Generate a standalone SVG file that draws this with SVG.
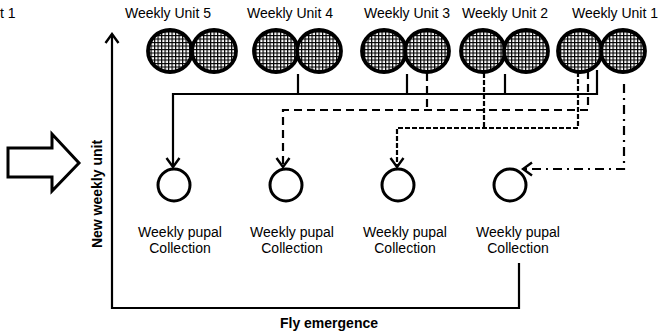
<svg xmlns="http://www.w3.org/2000/svg" width="660" height="335" viewBox="0 0 660 335">
<style>
text{font-family:"Liberation Sans",Arial,sans-serif;font-size:14px;fill:#000}
.b{font-weight:bold}
.cage{fill:url(#grid);stroke:#000;stroke-width:3.8}
.col{fill:#fff;stroke:#000;stroke-width:3}
.ln{fill:none;stroke:#000;stroke-width:2.2}
.d1{stroke-dasharray:8,5}
.d2{stroke-dasharray:5,2}
.d3{stroke-dasharray:9,5,2,5}
</style>
<defs>
<pattern id="grid" width="3.5" height="3.5" patternUnits="userSpaceOnUse">
<rect width="3.5" height="3.5" fill="#fff"/>
<path d="M0,0.6H3.5M0.6,0V3.5" stroke="#000" stroke-width="1.2"/>
</pattern>
<marker id="arr" viewBox="-12 -10 14 20" markerWidth="14" markerHeight="20" refX="0" refY="0" orient="auto" markerUnits="userSpaceOnUse">
<path d="M-9,-6.5L0,0L-9,6.5" fill="none" stroke="#000" stroke-width="2.4" stroke-dasharray="none"/>
</marker>
</defs>
<rect width="660" height="335" fill="#fff"/>
<text x="0" y="18">t 1</text>

<g id="unit5"><text x="168" y="18" text-anchor="middle">Weekly Unit 5</text>
<ellipse class="cage" cx="170" cy="51" rx="22" ry="21"/><ellipse class="cage" cx="214" cy="51" rx="22" ry="21"/></g>
<g id="unit4"><text x="290" y="18" text-anchor="middle">Weekly Unit 4</text>
<ellipse class="cage" cx="276" cy="51" rx="22" ry="21"/><ellipse class="cage" cx="319" cy="51" rx="22" ry="21"/></g>
<g id="unit3"><text x="407" y="18" text-anchor="middle">Weekly Unit 3</text>
<ellipse class="cage" cx="384" cy="51" rx="22" ry="21"/><ellipse class="cage" cx="427" cy="51" rx="22" ry="21"/></g>
<g id="unit2"><text x="505" y="18" text-anchor="middle">Weekly Unit 2</text>
<ellipse class="cage" cx="483" cy="51" rx="22" ry="21"/><ellipse class="cage" cx="526" cy="51" rx="22" ry="21"/></g>
<g id="unit1"><text x="615" y="18" text-anchor="middle">Weekly Unit 1</text>
<ellipse class="cage" cx="580" cy="51" rx="22" ry="21"/><ellipse class="cage" cx="623" cy="51" rx="22" ry="21"/></g>

<g id="col1"><circle class="col" cx="174" cy="185" r="16"/><text x="180" y="237" text-anchor="middle">Weekly pupal</text><text x="180" y="253" text-anchor="middle">Collection</text></g>
<g id="col2"><circle class="col" cx="286" cy="185" r="16"/><text x="292" y="237" text-anchor="middle">Weekly pupal</text><text x="292" y="253" text-anchor="middle">Collection</text></g>
<g id="col3"><circle class="col" cx="398" cy="185" r="16"/><text x="405" y="237" text-anchor="middle">Weekly pupal</text><text x="405" y="253" text-anchor="middle">Collection</text></g>
<g id="col4"><circle class="col" cx="510" cy="185" r="16"/><text x="518" y="237" text-anchor="middle">Weekly pupal</text><text x="518" y="253" text-anchor="middle">Collection</text></g>

<g id="bigarrow"><polygon points="8,148 52,148 52,134 79,163 52,191 52,177 8,177" fill="#fff" stroke="#000" stroke-width="3"/></g>
<g id="axis">
<text class="b" transform="translate(102,194) rotate(-90)" text-anchor="middle">New weekly unit</text>
<text class="b" x="329" y="328" text-anchor="middle">Fly emergence</text>
</g>

<g id="connectors">
<path class="ln" d="M519,263V308H112V34" marker-end="url(#arr)"/>
<path class="ln" d="M298,74V94M407,74V94M505,74V94"/>
<path class="ln" d="M597,70V94H173V167" marker-end="url(#arr)"/>
<path class="ln d1" d="M588,71V110H283V167" marker-end="url(#arr)"/>
<path class="ln d1" d="M427,73V110"/>
<path class="ln d2" d="M578,72V128H397V167" marker-end="url(#arr)"/>
<path class="ln d2" d="M484,73V128"/>
<path class="ln d3" d="M624,84V169H523" marker-end="url(#arr)"/>
</g>
</svg>
